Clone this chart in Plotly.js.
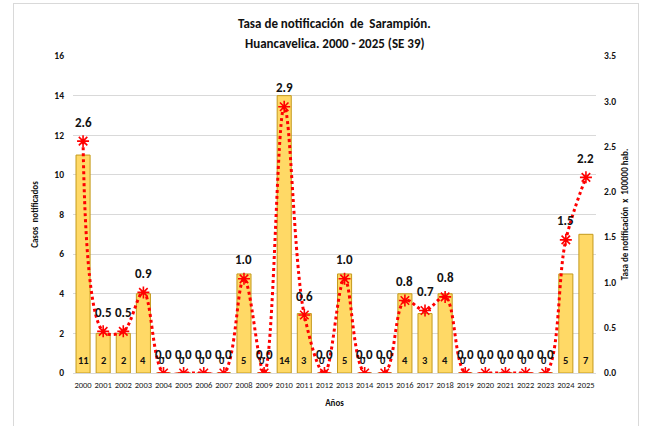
<!DOCTYPE html>
<html>
<head>
<meta charset="utf-8">
<script src="https://cdn.plot.ly/plotly-3.0.1.min.js"></script>
<style>
  html, body { margin: 0; padding: 0; background: #fff; }
  #wrap { position: relative; width: 646px; height: 426px; }
  #frame { position: absolute; left: 13px; top: 3px; width: 626px; height: 430px; border: 1px solid #D9D9D9; box-sizing: border-box; pointer-events: none; }
  #chart { width: 646px; height: 426px; }
</style>
</head>
<body>
<div id="wrap">
  <div id="chart"></div>
  <div id="frame"></div>
</div>
<script>
const years = ['2000','2001','2002','2003','2004','2005','2006','2007','2008','2009','2010','2011','2012','2013','2014','2015','2016','2017','2018','2019','2020','2021','2022','2023','2024','2025'];
const cases = [11, 2, 2, 4, 0, 0, 0, 0, 5, 0, 14, 3, 0, 5, 0, 0, 4, 3, 4, 0, 0, 0, 0, 0, 5, 7];
const rates = [2.56, 0.46, 0.46, 0.89, 0, 0, 0, 0, 1.04, 0, 2.94, 0.64, 0, 1.04, 0, 0, 0.80, 0.69, 0.84, 0, 0, 0, 0, 0, 1.47, 2.16];

const FONT = "Carlito, Calibri, 'Liberation Sans Narrow', 'Liberation Sans', Arial, sans-serif";

const barTrace = {
  type: 'bar', x: years, y: cases, name: 'Casos',
  marker: { color: '#FFD966', line: { color: '#C49A1C', width: 1 } },
  hoverinfo: 'x+y'
};
const lineTrace = {
  type: 'scatter', mode: 'lines+markers', x: years, y: rates, yaxis: 'y2', name: 'Tasa',
  line: { color: '#FF0000', width: 3, dash: 'dot', shape: 'spline', smoothing: 1 },
  marker: { symbol: 'asterisk-open', size: 10, color: '#FF0000', line: { color: '#FF0000', width: 1.6 } }
};

const annotations = [];
years.forEach((yr, i) => {
  annotations.push({
    x: i, y: 0, xref: 'x', yref: 'y', yanchor: 'middle', yshift: 13, xshift: cases[i] === 0 ? -2 : 0,
    text: String(cases[i]), showarrow: false,
    font: { family: FONT, size: 10.5, color: '#111', weight: 'bold' }
  });
  annotations.push({
    x: i, y: rates[i], xref: 'x', yref: 'y2', yanchor: 'middle', yshift: 19,
    text: rates[i].toFixed(1), showarrow: false,
    font: { family: FONT, size: 13, color: '#111', weight: 'bold' }
  });
});
annotations.push({
  x: 0.5, y: 1.101, xref: 'paper', yref: 'paper', yanchor: 'middle', showarrow: false,
  text: 'Tasa de notificación  de  Sarampión.',
  font: { family: FONT, size: 13, color: '#111', weight: 'bold' }
});
annotations.push({
  x: 0.5, y: 1.038, xref: 'paper', yref: 'paper', yanchor: 'middle', showarrow: false,
  text: 'Huancavelica. 2000 - 2025 (SE 39)',
  font: { family: FONT, size: 13, color: '#111', weight: 'bold' }
});

const layout = {
  width: 646, height: 426,
  margin: { l: 73, r: 50, t: 56, b: 53 },
  paper_bgcolor: '#fff', plot_bgcolor: '#fff',
  showlegend: false,
  bargap: 0.3,
  font: { family: FONT, color: '#111' },
  xaxis: {
    type: 'category', range: [-0.5, years.length - 0.5], tickangle: 0,
    tickfont: { family: FONT, size: 8.5, color: '#222' },
    showgrid: false, showline: true, linecolor: '#D9D9D9', linewidth: 1,
    ticks: '', ticklabelstandoff: 4,
    title: { text: 'Años', font: { family: FONT, size: 9, color: '#111', weight: 'bold' }, standoff: 10 }
  },
  yaxis: {
    range: [0, 16], dtick: 2, tick0: 0,
    showgrid: true, gridcolor: '#D9D9D9', gridwidth: 1,
    zeroline: false, showline: false, ticks: '', ticklabelstandoff: 8,
    tickfont: { family: FONT, size: 9.5, color: '#111', weight: 'bold' },
    title: { text: 'Casos  notificados', font: { family: FONT, size: 9, color: '#111', weight: 'bold' }, standoff: 14 }
  },
  yaxis2: {
    overlaying: 'y', side: 'right', range: [0, 3.5], dtick: 0.5, tick0: 0,
    tickformat: '.1f', showgrid: false, zeroline: false, showline: false, ticks: '', ticklabelstandoff: 7,
    tickfont: { family: FONT, size: 9.5, color: '#111', weight: 'bold' },
    title: { text: 'Tasa de notificación  x  100000 hab.', font: { family: FONT, size: 9, color: '#111', weight: 'bold' }, standoff: 6 }
  },
  annotations: annotations
};

Plotly.newPlot('chart', [barTrace, lineTrace], layout, { displayModeBar: false, staticPlot: true });
</script>
</body>
</html>
